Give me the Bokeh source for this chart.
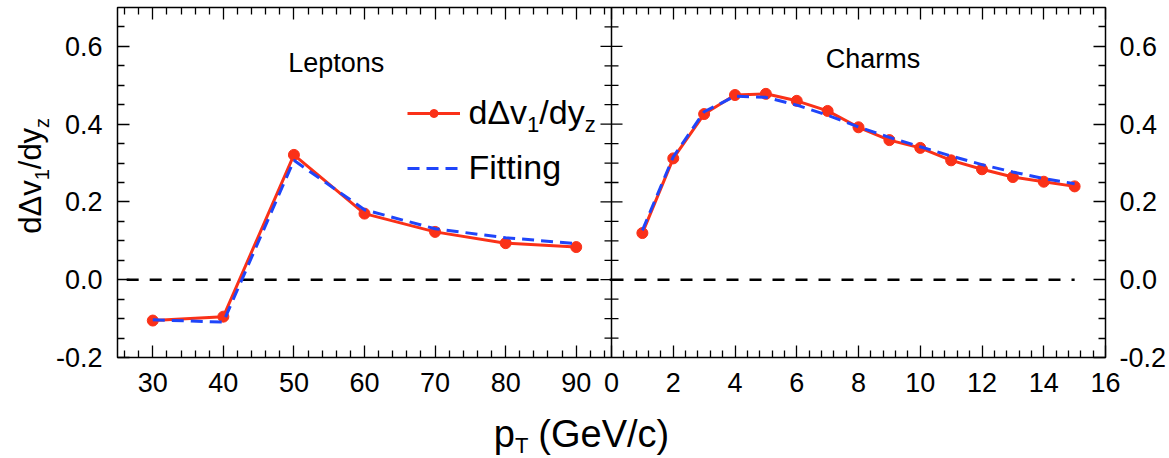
import numpy as np
from bokeh.plotting import figure
from bokeh.layouts import row, column
from bokeh.models import (Range1d, LinearAxis, FixedTicker, Label, Legend, LegendItem,
                          Span, NumeralTickFormatter)
from bokeh.core.properties import value
from bokeh.embed import file_html
from bokeh.resources import INLINE

# ---------------- data ----------------
lep_pt = [30, 40, 50, 60, 70, 80, 90]
lep_data = [-0.105, -0.095, 0.321, 0.170, 0.123, 0.094, 0.084]
lep_fit = [-0.103, -0.109, 0.307, 0.180, 0.131, 0.108, 0.093]

charm_pt = [1, 2, 3, 4, 5, 6, 7, 8, 9, 10, 11, 12, 13, 14, 15]
charm_data = [0.120, 0.312, 0.426, 0.475, 0.478, 0.460, 0.434, 0.392,
              0.359, 0.339, 0.307, 0.284, 0.264, 0.252, 0.240]
charm_fit = [0.127, 0.316, 0.432, 0.472, 0.469, 0.449, 0.423, 0.393,
             0.366, 0.342, 0.318, 0.296, 0.277, 0.260, 0.247]

zero_lep_x = [26.3, 95]
zero_charm_x = [0, 15]

lep_xlim = (25, 95)
charm_xlim = (0, 16)
y_lim = (-0.2, 0.7)

lep_ticks = [30, 40, 50, 60, 70, 80, 90]
lep_minor = [26, 28, 32, 34, 36, 38, 42, 44, 46, 48, 52, 54, 56, 58, 62, 64, 66, 68,
             72, 74, 76, 78, 82, 84, 86, 88, 92, 94]
charm_ticks = [0, 2, 4, 6, 8, 10, 12, 14, 16]
charm_minor_step = 0.4
y_ticks = [-0.2, 0.0, 0.2, 0.4, 0.6]
y_minor = [-0.15, -0.1, -0.05, 0.05, 0.1, 0.15, 0.25, 0.3, 0.35, 0.45, 0.5, 0.55, 0.65]

# ---------------- layout constants ----------------
W, H = 1169, 458
YW = 52            # width of the strip holding the y title
MH = 405           # height of the main plot canvas
FL, FR, FT, FB = 117, 1107, 7, 357      # frame edges (page px)
FONT = "Liberation Sans"
RED = "#FA3118"
BLUE = "#1F45FA"
BASE_FIX = 0.3     # empirical baseline correction (fraction of font size)

lw = lep_xlim[1] - lep_xlim[0]
main_end = lep_xlim[1] + lw        # both panels have equal width
scale_cr = lw / (charm_xlim[1] - charm_xlim[0])


def c2m(r):
    return lep_xlim[1] + (r - charm_xlim[0]) * scale_cr


p = figure(width=W - YW, height=MH, x_range=Range1d(lep_xlim[0], main_end),
           y_range=Range1d(*y_lim), x_axis_type=None, y_axis_type=None,
           toolbar_location=None, output_backend="svg",
           min_border_left=FL - YW, min_border_right=W - FR, min_border_top=FT,
           min_border_bottom=MH - FB)
p.extra_x_ranges = {"charm": Range1d(charm_xlim[0] - (charm_xlim[1] - charm_xlim[0]), charm_xlim[1])}
p.outline_line_color = "black"
p.outline_line_width = 1.5
p.background_fill_color = "white"
p.border_fill_color = "white"

# ---------------- axes ----------------
charm_minor = []
k = 0
while k * charm_minor_step <= charm_xlim[1] + 1e-9:
    v = round(k * charm_minor_step, 6)
    if all(abs(v - t) > 1e-6 for t in charm_ticks):
        charm_minor.append(v)
    k += 1

x_major = lep_ticks + [c2m(t) for t in charm_ticks]
x_minor = lep_minor + [c2m(t) for t in charm_minor]
labels_bottom = {t: str(t) for t in lep_ticks}
labels_bottom.update({c2m(t): str(t) for t in charm_ticks})
labels_top = {t: "" for t in x_major}


def style_axis(ax, standoff):
    ax.axis_line_color = None
    ax.major_tick_in = 12
    ax.major_tick_out = 0
    ax.minor_tick_in = 7
    ax.minor_tick_out = 0
    ax.major_tick_line_color = "black"
    ax.minor_tick_line_color = "black"
    ax.major_tick_line_width = 1.3
    ax.minor_tick_line_width = 1.3
    ax.major_label_text_font = FONT
    ax.major_label_text_font_size = "27px"
    ax.major_label_text_color = "black"
    ax.major_label_standoff = standoff


xb = LinearAxis(ticker=FixedTicker(ticks=x_major, minor_ticks=x_minor),
                major_label_overrides=labels_bottom)
style_axis(xb, 15)
p.add_layout(xb, "below")

xt = LinearAxis(ticker=FixedTicker(ticks=x_major, minor_ticks=x_minor),
                major_label_overrides=labels_top)
style_axis(xt, 0)
p.add_layout(xt, "above")

for side, so in (("left", 15), ("right", 14)):
    ya = LinearAxis(ticker=FixedTicker(ticks=y_ticks, minor_ticks=y_minor),
                    formatter=NumeralTickFormatter(format="0.0"))
    style_axis(ya, so)
    p.add_layout(ya, side)

# divider between panels, with ticks on both sides
p.add_layout(Span(location=lep_xlim[1], dimension="height", line_color="black", line_width=1.5))
inner_major = [t for t in y_ticks if y_lim[0] < t < y_lim[1]]
p.scatter([lep_xlim[1]] * len(inner_major), inner_major, marker="dash", size=22,
          line_color="black", line_width=1.3)
p.scatter([lep_xlim[1]] * len(y_minor), y_minor, marker="dash", size=14,
          line_color="black", line_width=1.3)

# ---------------- zero lines ----------------
p.line(zero_lep_x, [0, 0], line_color="black", line_width=2.5, line_dash="12 11")
p.line(zero_charm_x, [0, 0], line_color="black", line_width=2.5, line_dash="12 11",
       x_range_name="charm")

# ---------------- data ----------------
r_line = p.line(lep_pt, lep_data, line_color=RED, line_width=3)
r_pts = p.scatter(lep_pt, lep_data, marker="circle", size=11, fill_color=RED, line_color=RED)
b_line = p.line(lep_pt, lep_fit, line_color=BLUE, line_width=3, line_dash="12 7")

p.line(charm_pt, charm_data, line_color=RED, line_width=3, x_range_name="charm")
p.scatter(charm_pt, charm_data, marker="circle", size=11, fill_color=RED, line_color=RED,
          x_range_name="charm")
p.line(charm_pt, charm_fit, line_color=BLUE, line_width=3, line_dash="12 7",
       x_range_name="charm")

# ---------------- legend (samples) ----------------
legend = Legend(items=[LegendItem(label=value(" "), renderers=[r_line, r_pts]),
                       LegendItem(label=value(" "), renderers=[b_line])],
                location=(407 - FL, FB - 178.3), glyph_width=53, glyph_height=20,
                label_height=20, label_width=0, label_standoff=0, spacing=35,
                padding=0, margin=0, border_line_color=None, background_fill_alpha=0,
                label_text_font_size="10px")
p.add_layout(legend, "center")

# ---------------- text strips ----------------
def text_fig(w, h, left=0, right=0):
    f = figure(width=w, height=h, x_range=Range1d(0, 1), y_range=Range1d(0, 1),
               x_axis_type=None, y_axis_type=None, toolbar_location=None,
               output_backend="svg", min_border=0,
               min_border_left=left, min_border_right=right)
    f.outline_line_color = None
    f.background_fill_color = "white"
    f.border_fill_color = "white"
    return f


yfig = text_fig(YW, H)                                    # frame origin page (0, 0)
xfig = text_fig(W - YW, H - MH, left=FL - YW, right=W - FR)  # frame left at page FL

ADV = {'d': 556, 'Δ': 668, 'v': 500, '1': 556, '/': 278, 'y': 500, 'z': 500, 'p': 556,
       'T': 611, ' ': 278, '(': 333, 'G': 778, 'e': 556, 'V': 667, 'c': 500, ')': 333,
       'F': 611, 'i': 222, 't': 278, 'n': 556, 'g': 556}


def place(fig, ox, fbottom, parts, cx, cy, rotated=False):
    """parts: (text, size, drop, gap). cx, cy: page px of the baseline start.
    ox: page x of the figure frame's left edge, fbottom: page y of its bottom edge."""
    adv = 0.0
    for txt, size, drop, gap in parts:
        adv += gap
        d = drop - BASE_FIX * size
        if rotated:
            X, Y = cx + d, cy - adv
        else:
            X, Y = cx + adv, cy + d
        fig.add_layout(Label(x=X - ox, y=fbottom - Y, x_units="screen", y_units="screen",
                             text=txt, text_font=FONT, text_font_size=f"{size}px",
                             text_color="black", text_baseline="alphabetic",
                             text_align="left", angle=(np.pi / 2 if rotated else 0)))
        adv += sum(ADV.get(ch, 556) for ch in txt) * size / 1000.0


# legend texts (inside the main frame)
place(p, FL, FB, [("dΔv", 34, 0, 0), ("1", 22, 9, 0), ("/dy", 34, 0, 0),
                  ("z", 22, 9, 0)], 468, 121.7)
place(p, FL, FB, [("Fitting", 34, 0, 0)], 468, 176.7)

# y-axis title (rotated)
place(yfig, 0, H, [("dΔv", 31, 0, 0), ("1", 20, 8, 0), ("/dy", 31, 0, 0), ("z", 20, 8, 0)],
      39, 233.3, rotated=True)

# x-axis title
place(xfig, FL, H, [("p", 38, 0, 0), ("T", 22, 7, 0), ("(GeV/c)", 38, 0, 10)],
      493.3, 444.5)

# panel names
p.add_layout(Label(x=56, y=0.557, text="Leptons", text_font=FONT, text_font_size="27px",
                   text_align="center", text_baseline="alphabetic", text_color="black"))
p.add_layout(Label(x=8.47, y=0.567, x_range_name="charm", text="Charms", text_font=FONT,
                   text_font_size="27px", text_align="center", text_baseline="alphabetic",
                   text_color="black"))

layout = row(yfig, column(p, xfig, spacing=0), spacing=0)
open("out.html", "w").write(file_html(layout, INLINE))
